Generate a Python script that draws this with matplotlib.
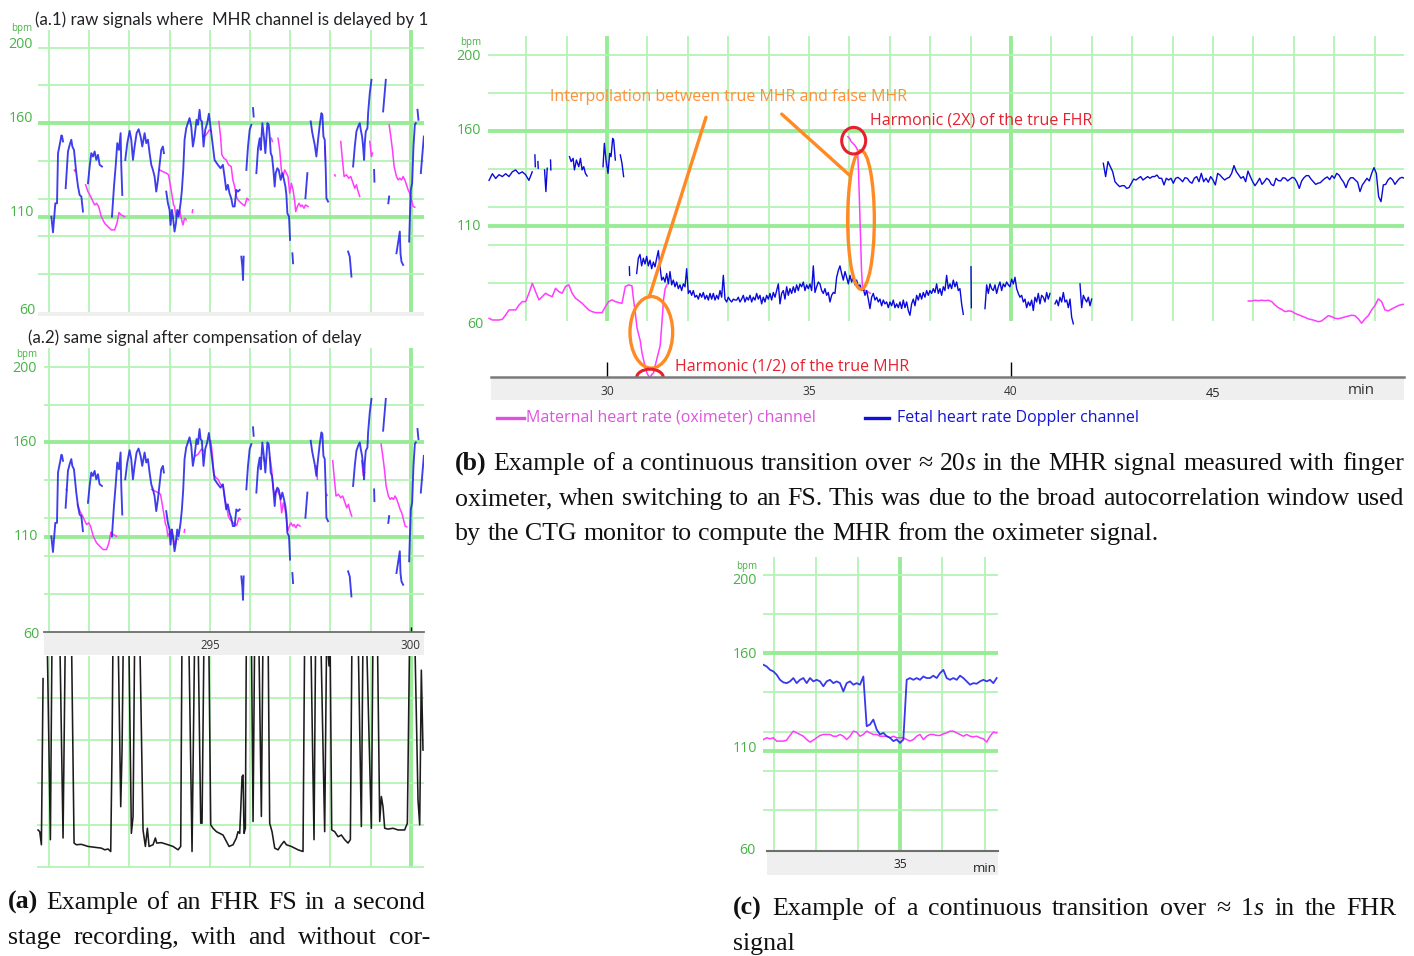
import numpy as np
import matplotlib
matplotlib.use("Agg")
import matplotlib.pyplot as plt
from matplotlib.patches import Ellipse
from matplotlib.lines import Line2D

nan = float("nan")

# ---------------- DATA ----------------
# (a.1)/(a.2): time in s, heart rate in bpm (NaN = signal gap)
a_fhr = [
    (291.058, 110.4), (291.099, 102.1), (291.157, 117.5), (291.199, 117.5), (291.224, 144.1), (291.282, 150.3),
    (291.307, 153.5), (291.323, 153.3), (291.348, 150.3), (nan, nan),
    (291.414, 125.5), (291.472, 145.0), (291.514, 148.5), (291.555, 151.2), (291.580, 147.6), (291.621, 145.8),
    (291.679, 133.5), (291.721, 126.4), (291.762, 121.9), (291.804, 121.1), (291.845, 113.1), (nan, nan),
    (291.969, 128.1), (292.011, 137.0), (292.052, 144.1), (292.094, 142.3), (292.135, 145.0), (292.176, 140.5),
    (292.218, 143.2), (292.259, 137.9), (292.317, 137.0), (nan, nan),
    (292.566, 110.4), (292.616, 126.4), (292.657, 137.0), (292.698, 149.4), (292.740, 145.8), (292.781, 154.7),
    (292.798, 137.0), (292.823, 121.9), (nan, nan),
    (292.897, 140.5), (292.947, 149.4), (293.005, 155.9), (293.046, 151.2), (293.088, 140.5), (293.129, 147.6),
    (293.179, 154.7), (293.229, 156.8), (293.278, 152.9), (293.320, 147.6), (293.378, 154.7), (293.419, 149.4),
    (293.461, 151.2), (293.502, 144.1), (293.544, 137.9), (293.585, 135.2), (293.626, 131.7), (293.668, 123.7),
    (293.709, 129.9), (293.751, 137.9), (293.792, 145.8), (293.833, 147.6), (293.858, 144.1), (nan, nan),
    (293.916, 123.7), (293.958, 117.5), (293.999, 114.0), (294.024, 106.0), (294.057, 114.0), (294.082, 110.4),
    (294.123, 102.5), (294.157, 106.9), (294.190, 114.0), (294.223, 110.4), (294.273, 117.5), (294.306, 124.6),
    (294.339, 135.2), (294.372, 151.2), (294.413, 157.3), (294.455, 160.0), (294.496, 162.7), (294.538, 158.2),
    (294.579, 147.6), (294.621, 152.9), (294.670, 161.8), (294.703, 159.1), (294.745, 167.1), (294.770, 161.8),
    (294.803, 160.9), (294.844, 147.6), (294.886, 156.5), (294.935, 160.0), (294.977, 165.0), (295.076, 147.6),
    (295.118, 140.5), (295.200, 137.9), (295.267, 136.1), (295.325, 137.9), (295.366, 131.7), (295.408, 124.6),
    (295.449, 127.3), (295.490, 122.8), (295.532, 120.2), (295.573, 115.8), (295.618, 115.8), (295.660, 124.6),
    (295.701, 123.7), (295.743, 124.6), (nan, nan),
    (295.784, 89.2), (295.809, 83.9), (295.826, 76.8), (295.842, 89.2), (nan, nan),
    (295.909, 135.2), (295.950, 147.6), (295.992, 156.5), (296.033, 159.1), (nan, nan),
    (296.075, 168.0), (296.091, 163.5), (nan, nan),
    (296.158, 133.5), (296.199, 146.7), (296.241, 152.0), (296.266, 145.8), (296.307, 160.0), (296.349, 152.0),
    (296.382, 144.1), (296.432, 160.0), (296.465, 159.1), (296.490, 152.9), (296.515, 144.1), (296.548, 142.3),
    (296.581, 135.2), (296.614, 126.4), (296.639, 133.5), (296.680, 136.1), (296.714, 135.2), (296.763, 129.9),
    (296.805, 133.5), (296.846, 129.9), (296.880, 126.4), (296.905, 121.9), (296.929, 112.2), (296.971, 110.4),
    (296.996, 98.1), (nan, nan),
    (297.054, 91.0), (297.071, 85.7), (nan, nan),
    (297.378, 120.2), (297.427, 133.5), (nan, nan),
    (297.510, 160.9), (297.544, 155.6), (297.568, 152.9), (297.610, 148.5), (297.651, 142.3), (297.693, 151.2),
    (297.734, 159.1), (297.776, 165.3), (297.801, 164.4), (297.826, 152.9), (297.859, 151.2), (297.884, 135.2),
    (297.900, 120.2), (297.942, 118.4), (nan, nan),
    (298.440, 91.9), (298.481, 89.2), (298.523, 78.6), (nan, nan),
    (298.564, 137.0), (298.606, 147.6), (298.647, 155.6), (298.689, 158.2), (298.730, 160.0), (298.755, 156.5),
    (298.788, 152.9), (298.813, 147.6), (298.838, 140.5), (298.855, 149.4), (298.880, 155.6), (298.921, 157.3),
    (298.938, 165.3), (298.979, 175.9), (299.021, 183.0), (nan, nan),
    (299.087, 135.2), (299.095, 129.0), (nan, nan),
    (299.311, 166.2), (299.378, 183.0), (nan, nan),
    (299.440, 117.5), (299.461, 121.1), (nan, nan),
    (299.643, 91.0), (299.726, 102.5), (299.743, 91.0), (299.768, 86.5), (299.809, 84.8), (nan, nan),
    (299.959, 97.2), (299.975, 108.7), (300.000, 124.6), (300.033, 128.1), (300.066, 147.6), (300.100, 159.1),
    (300.124, 160.0), (nan, nan),
    (300.166, 167.1), (300.190, 161.8), (nan, nan),
    (300.249, 133.5), (300.290, 144.1), (300.324, 152.9),
]

a_mhr = [
    (291.630, 135.2), (291.645, 134.5), (nan, nan),
    (291.911, 127.3), (291.969, 123.7), (292.036, 121.1), (292.094, 118.4), (292.135, 116.6), (292.185, 117.5),
    (292.234, 115.8), (292.301, 110.4), (292.384, 106.9), (292.466, 105.1), (292.549, 103.4), (292.632, 103.4),
    (292.690, 106.9), (292.740, 112.6), (292.798, 111.3), (292.881, 110.4), (nan, nan),
    (293.751, 135.2), (293.833, 134.3), (293.916, 133.5), (293.974, 132.6), (294.024, 126.4), (294.065, 121.1),
    (294.099, 116.6), (294.123, 115.8), (294.157, 110.4), (294.206, 112.2), (294.248, 114.0), (294.289, 109.6),
    (294.331, 106.0), (294.372, 109.6), (294.413, 108.7), (nan, nan),
    (294.563, 112.6), (294.575, 114.0), (nan, nan),
    (294.844, 152.9), (294.910, 153.8), (294.993, 156.5), (295.035, 155.6), (nan, nan),
    (295.225, 160.9), (295.267, 152.9), (295.300, 143.2), (295.350, 141.4), (295.408, 140.5), (295.466, 137.9),
    (295.532, 137.0), (295.573, 129.9), (295.618, 126.4), (295.660, 121.1), (295.701, 119.3), (295.784, 117.5),
    (295.867, 116.1), (295.925, 120.2), (295.967, 119.3), (nan, nan),
    (296.531, 152.0), (296.556, 150.3), (nan, nan),
    (296.697, 152.0), (296.739, 145.8), (296.780, 135.2), (296.822, 131.7), (296.863, 135.2), (296.905, 133.5),
    (296.946, 131.7), (296.988, 122.8), (297.029, 128.1), (297.071, 124.6), (297.112, 118.4), (297.137, 113.1),
    (297.178, 115.8), (297.220, 117.5), (297.261, 115.8), (297.295, 116.6), (297.344, 114.9), (297.378, 116.6),
    (297.444, 115.8), (nan, nan),
    (297.859, 147.6), (297.876, 140.5), (nan, nan),
    (298.108, 132.6), (298.120, 132.0), (nan, nan),
    (298.257, 150.3), (298.299, 140.5), (298.340, 131.7), (298.398, 132.6), (298.456, 130.8), (298.506, 131.7),
    (298.564, 128.1), (298.606, 125.5), (298.647, 127.3), (298.689, 123.7), (298.730, 121.1), (nan, nan),
    (298.979, 150.3), (299.021, 142.3), (299.046, 144.1), (nan, nan),
    (299.461, 159.1), (299.502, 152.9), (299.544, 145.8), (299.585, 137.0), (299.643, 131.7), (299.685, 129.9),
    (299.726, 130.8), (299.768, 129.9), (299.809, 131.7), (299.851, 129.9), (299.892, 127.3), (299.934, 124.6),
    (299.975, 122.8), (300.017, 119.3), (300.058, 115.8), (300.100, 115.4),
]
MHR_DELAY = 0.2  # s, compensated in (a.2)

# (a) bottom: raw signal (arbitrary units, values > 5 are off the chart)
a_raw = [
    (290.726, 0.88), (290.768, 0.84), (290.809, 0.53), (290.851, 4.46), (nan, nan),
    (290.950, 5.6), (291.033, 0.65), (291.075, 5.6), (291.265, 5.6), (291.348, 0.69), (291.406, 5.6),
    (291.556, 5.6), (291.622, 0.57), (291.680, 0.53), (291.804, 0.54), (291.970, 0.49), (292.136, 0.47),
    (292.302, 0.45), (292.385, 0.41), (292.468, 0.43), (292.534, 0.37), (292.567, 2.77), (292.592, 5.6),
    (292.716, 5.6), (292.783, 1.43), (292.816, 2.77), (292.849, 5.6),
    (292.982, 5.6), (293.048, 0.80), (293.090, 1.20), (293.131, 5.6),
    (293.255, 5.6), (293.338, 0.88), (293.396, 0.49), (293.446, 0.92), (293.488, 0.49), (293.587, 0.53),
    (293.645, 0.69), (293.678, 0.57), (293.794, 0.58), (293.960, 0.53), (294.085, 0.49), (294.209, 0.41),
    (294.275, 0.49), (294.308, 5.6),
    (294.474, 5.6), (294.557, 0.37), (294.624, 5.6),
    (294.706, 5.6), (294.773, 1.04), (294.806, 1.04), (294.856, 5.6),
    (294.972, 5.6), (295.022, 1.00), (295.080, 0.92), (295.163, 0.84), (295.245, 0.80), (295.328, 0.76),
    (295.411, 0.61), (295.478, 0.49), (295.577, 0.53), (295.660, 0.69), (295.701, 0.84), (295.743, 0.80),
    (295.768, 1.35), (295.801, 2.14), (295.826, 2.18), (295.851, 0.80), (295.884, 0.92), (295.909, 5.6),
    (296.033, 5.6), (296.075, 1.08), (296.116, 5.6),
    (296.216, 5.6), (296.282, 1.20), (296.323, 5.6),
    (296.448, 5.6), (296.489, 1.04), (296.547, 0.84), (296.614, 0.45), (296.697, 0.41), (296.779, 0.53),
    (296.846, 0.61), (296.904, 0.53), (297.028, 0.49), (297.194, 0.41), (297.318, 0.37), (297.360, 5.6),
    (297.509, 5.6), (297.592, 0.65), (297.633, 5.6),
    (297.758, 5.6), (297.857, 0.84), (297.907, 5.6), (297.965, 4.76), (297.990, 5.6), (298.032, 0.88),
    (298.106, 0.84), (298.189, 0.72), (298.272, 0.76), (298.355, 0.65), (298.438, 0.57), (298.496, 0.65),
    (298.537, 5.6),
    (298.687, 5.6), (298.769, 0.96), (298.811, 5.6),
    (298.894, 5.6), (299.018, 0.92), (299.060, 5.6),
    (299.167, 5.6), (299.226, 1.08), (299.267, 1.67), (299.308, 1.43), (299.350, 0.92), (299.433, 0.90),
    (299.557, 0.92), (299.682, 0.88), (299.847, 0.88), (299.914, 1.04), (299.972, 5.6),
    (300.096, 5.6), (300.179, 1.59), (300.221, 1.00), (300.262, 4.66), (300.303, 2.77),
]

# (b): time in min, bpm.  Regularly sampled FHR segments: (start, step, values)
b_fhr_step = 0.04125
b_fhr_seg1_start = 30.734
b_fhr_seg1 = [
    85, 93, 95, 89, 93, 90, 94, 89, 92, 87.5, 91, 88.5, 93, 97, 88.5, 81.5, 83, 80.5, 85, 79.5,
    86, 79, 81.5, 78, 80.5, 77, 79, 76, 79.5, 78, 87.5, 74.5, 76, 73.5, 76, 72.5, 73.5, 71.5, 74.5, 72.5,
    75, 71.5, 73.5, 71, 74.5, 71.5, 74.5, 71, 73.5, 71.5, 76, 72.5, 84, 71.5, 70, 72.5, 71, 70, 71.5, 71,
    71, 72.5, 70, 71.5, 73.5, 70, 72.5, 71, 73.5, 70, 72.5, 71, 74.5, 71.5, 73.5, 69, 72.5, 70, 73.5, 71.5,
    74.5, 71, 75, 72.5, 76, 79.5, 69, 74.5, 76, 71.5, 78, 73.5, 77, 74.5, 78, 75, 79, 76, 79.5, 78,
    80.5, 76, 79, 77, 79.5, 76, 89, 75, 78, 80.5, 79.5, 76, 74.5, 77, 73.5, 75, 70, 73.5, 75, 74.5,
    83, 86.5, 89, 85, 81.5, 86, 83, 79.5, 84, 80.5, 83, 79, 81.5, 78, 79, 76, 77, 73.5, 76, 71.5,
    66.5, 72.5, 74.5, 71, 72.5, 70, 71.5, 68, 71, 69, 70, 67, 70, 68, 71, 67, 69, 67, 70, 66.5,
    71, 67, 70, 65.5, 63, 69, 71.5, 68, 73.5, 71, 74.5, 71.5, 75, 72.5, 76, 73.5, 76, 74.5, 77, 75,
    79.5, 74.5, 77, 73.5, 78, 76, 84, 77, 79.5, 77, 81.5, 78, 80.5, 76, 77, 69, 63.5,
]
b_fhr_seg2_start = 39.356
b_fhr_seg2 = [
    66.5, 79, 74.5, 79.5, 77, 76, 79, 74.5, 78, 80.5, 76, 79.5, 78, 80.5, 79, 78, 82, 79.5, 83, 77,
    74.5, 72.5, 73.5, 70, 71.5, 67, 70, 68, 71, 65.5, 72.5, 70, 74.5, 69, 73.5, 72.5, 70, 75, 71.5, 74.5,
]
b_fhr_seg3_start = 41.089
b_fhr_seg3 = [69, 71, 68, 72.5, 70, 75, 70, 71, 67, 71.5, 62, 58.5]
b_fhr_seg4_start = 41.708
b_fhr_seg4 = [79.5, 67, 73.5, 71.5, 70, 72.5, 68, 71.5]

b_fhr_left_start, b_fhr_left_step = 27.08, 0.0822
b_fhr_left = [134, 137.5, 135, 137, 136, 137.5, 136, 138.5, 139.5, 137.5, 138.5, 137, 134, 138.5]

b_fhr_pieces = [
    (28.215, 147.4), (28.225, 141.2), (nan, nan), (28.289, 143.9), (28.297, 140.4), (nan, nan),
    (28.454, 139.5), (28.487, 128.1), (28.520, 140.4), (nan, nan), (28.602, 144.7), (28.610, 139.5), (nan, nan),
    (29.071, 146.5), (29.112, 143.9), (29.161, 145.6), (29.194, 139.5), (29.243, 144.7), (29.301, 141.2),
    (29.342, 145.6), (29.383, 139.5), (29.424, 141.2), (29.465, 137.7), (29.507, 136.3), (nan, nan),
    (29.901, 141.2), (29.934, 153.5), (29.975, 144.7), (30.025, 137.7), (30.066, 148.2), (30.099, 146.5),
    (30.140, 156.1), (30.164, 155.3), (30.206, 144.7), (nan, nan),
    (30.329, 147.4), (30.370, 143.0), (30.411, 136.0), (nan, nan),
    (30.553, 88.5), (30.560, 84.0), (nan, nan), (39.010, 88.5), (39.018, 67.0),
]

b_fhr_right_start, b_fhr_right_step = 42.285, 0.05776
b_fhr_right = [
    143, 136, 143.9, 141.2, 138.6, 133.3, 131.9, 130.7, 131.2, 131.2,
    129.8, 130.2, 132.5, 134.7, 134.2, 135.1, 136, 134.2, 135.1, 136,
    135.1, 136, 136, 136.8, 135.1, 135.1, 131.6, 135.1, 134.2, 135.1,
    132.5, 135.1, 135.6, 134.6, 133.3, 135.4, 135.1, 133.3, 132.5, 135.1,
    136, 133.3, 137.7, 133.3, 135.1, 133, 136, 134.2, 131.6, 137.7,
    136.8, 135.4, 134.2, 135.1, 135.6, 137.7, 141.8, 138.6, 136.8, 135.1,
    136, 133.3, 138.9, 136, 133.3, 131.2, 133, 135.1, 131.9, 133.3,
    135.1, 134.2, 131.9, 131.2, 135.1, 133.9, 133.7, 135.4, 135.1, 133.7,
    134.7, 135.6, 135.1, 133, 129.8, 133.7, 135.4, 136.5, 136.5, 134.7,
    133.3, 131.9, 132.5, 132.8, 134, 135.1, 135.8, 134.4, 136.5, 135.1,
    137.7, 136.8, 134.7, 133, 130.2, 133.7, 135.4, 135.4, 134.2, 133,
    128.1, 131.6, 133.3, 135.1, 133.7, 137.7, 140.7, 137.7, 125.4, 122.8,
    131.6, 131.9, 134.2, 135.4, 134.2, 131.9, 133.7, 135.1, 135.6, 135.1,
]

b_mhr_a_start, b_mhr_a_step = 27.081, 0.08224
b_mhr_a = [
    61.4, 60.5, 60.5, 60.5, 60.9, 63.2, 65.8, 65.8, 65.8, 68.4, 70.2, 70.2, 74.6, 79.8, 75.4, 71.1,
    72.8, 74.6, 73.5, 72.8, 77.2, 75.4, 74.6, 78.1, 79.0, 74.6, 71.9, 70.7, 69.3, 67.5, 65.8, 64.9,
    64.4, 64.4, 64.4, 67.5, 70.2, 71.1, 70.2, 69.7, 69.3, 78.1, 79.0, 78.5,
]
b_mhr_b_start, b_mhr_b_step = 30.658, 0.04112
b_mhr_b = [71, 64.6, 56.6, 53, 49.6, 43.5, 39.5, 36, 32.7, 31, 30.5, 31.9, 32.7, 36.5, 40, 43.5, 47,
           58.4, 71, 77, 79]
b_mhr_harm = [
    (35.962, 157.0), (36.003, 156.1), (36.044, 154.4), (36.086, 153.5), (36.127, 152.6), (36.168, 151.4),
    (36.201, 150.0), (36.225, 139.5), (36.250, 121.9), (36.275, 104.4), (36.299, 86.8), (36.324, 78.1),
    (36.373, 76.3), (36.456, 75.4), (36.513, 74.6),
]
b_mhr_right_start, b_mhr_right_step = 45.874, 0.0825
b_mhr_right = [
    70.5, 70.5, 70.9, 70.7, 70.9, 70.7, 70.9, 70.2, 68.4, 67.0, 66.1, 64.9, 65.3, 65.1, 64.0, 63.3,
    62.6, 61.9, 61.1, 60.7, 60.2, 59.6, 60.0, 61.4, 62.8, 62.3, 61.4, 61.2, 61.6, 62.1, 62.6, 63.0,
    62.8, 61.1, 58.8, 61.1, 62.8, 65.8, 68.1, 71.6, 70.2, 65.8, 65.3, 66.3, 67.2, 68.1, 68.6, 68.9,
]

# (c): time in s relative to 35 min, bpm
c_start, c_step = -32.51, 0.7911
c_fhr = [
    154.1, 153.2, 151.5, 150.7, 149.0, 146.4, 145.1, 144.7, 145.6, 147.3, 144.7, 146.4, 147.3, 144.7,
    147.3, 145.6, 146.4, 145.6, 143.1, 145.6, 146.4, 144.7, 145.6, 144.7, 140.5, 144.7, 145.6, 143.9,
    144.7, 143.9, 148.1, 122.7, 123.6, 126.1, 121.0, 118.5, 119.3, 117.6, 116.8, 115.1, 115.9, 114.2,
    115.9, 146.4, 147.3, 146.4, 147.3, 146.4, 148.1, 147.3, 147.3, 148.5, 147.3, 149.8, 151.5, 147.3,
    146.4, 147.3, 146.4, 148.5, 147.3, 145.6, 143.9, 144.7, 144.4, 145.6, 146.4, 145.6, 146.4, 144.7, 147.3,
]
c_mhr = [
    115.9, 116.8, 116.3, 116.8, 115.1, 115.1, 115.1, 115.6, 118.0, 120.2, 119.3, 118.5, 117.6, 115.9,
    114.6, 115.6, 116.8, 118.0, 118.5, 118.5, 118.5, 117.6, 117.6, 118.5, 117.6, 115.9, 117.6, 120.2,
    119.7, 117.6, 118.5, 120.2, 119.3, 118.5, 118.5, 117.6, 117.6, 117.6, 116.8, 117.6, 116.8, 116.8,
    116.8, 115.9, 115.1, 115.9, 117.6, 118.5, 115.9, 117.6, 118.5, 118.5, 118.0, 118.0, 118.8, 119.3,
    120.2, 120.2, 119.3, 118.5, 117.6, 118.5, 117.6, 117.3, 117.6, 116.8, 116.3, 114.6, 117.6, 119.7, 119.3,
]

BPM_GRID = [200, 180, 160, 140, 120, 110, 100, 80]
BPM_BOLD = [160, 110]
BPM_LABELS = ["200", "160", "110", "60"]

# ---------------- STYLE ----------------
W, H = 1414, 956
GREEN_THIN = dict(color="#B3F3B3", lw=1.3, solid_capstyle="butt")
GREEN_BOLD = dict(color="#98EC98", lw=2.8, solid_capstyle="butt")
LABEL_GREEN = "#47B347"
BLUE = "#2323EA"
BLUE_B = "#0A0ADC"
PINK = "#FF3CFF"
BAND = "#EFEFEF"
SANS = ["Open Sans", "DejaVu Sans"]
TSANS = ["Lato", "DejaVu Sans"]
SERIF = ["Liberation Serif", "DejaVu Serif"]
ANN_SIZE = 11.5

fig = plt.figure(figsize=(W / 100, H / 100), dpi=100)
fig.patch.set_facecolor("white")


def axes_px(x0, y0, x1, y1, face="white"):
    ax = fig.add_axes([x0 / W, 1 - y1 / H, (x1 - x0) / W, (y1 - y0) / H])
    ax.set_facecolor(face)
    for s in ax.spines.values():
        s.set_visible(False)
    ax.set_xticks([])
    ax.set_yticks([])
    return ax


def ftext(x, y, s, **kw):
    kw.setdefault("va", "center")
    return fig.text(x / W, 1 - y / H, s, **kw)


def unzip(pairs):
    a = np.array(pairs, dtype=float)
    return a[:, 0], a[:, 1]


def regular(start, step, vals):
    v = np.asarray(vals, dtype=float)
    return start + step * np.arange(len(v)), v


def grid(ax, xs, xbold, ys, ybold, ymin=None, ymax=None):
    for x in xs:
        st = GREEN_BOLD if x in xbold else GREEN_THIN
        if ymin is None:
            ax.axvline(x, zorder=0, **st)
        else:
            ax.plot([x, x], [ymin, ymax], zorder=0, **st)
    for y in ys:
        ax.axhline(y, zorder=0, **(GREEN_BOLD if y in ybold else GREEN_THIN))


def ylabels(xr, ys, bpm_y, bpm_x, size=10.3):
    ftext(bpm_x, bpm_y, "bpm", fontsize=7, color=LABEL_GREEN, ha="right", family=SANS)
    for (s, y), xo in zip(zip(BPM_LABELS, ys), xr):
        ftext(xo, y, s, fontsize=size, color=LABEL_GREEN, ha="right", family=SANS)


# ---------------- (a.1) ----------------
ax1 = axes_px(38, 30, 424, 312)
ax1.set_xlim(290.726, 300.328)
ax1.set_ylim(59.85, 209.4)
grid(ax1, range(291, 301), [300], BPM_GRID, BPM_BOLD)
t, v = unzip(a_mhr)
ax1.plot(t, v, color=PINK, lw=1.1, zorder=2)
t, v = unzip(a_fhr)
ax1.plot(t, v, color=BLUE, lw=1.35, alpha=0.88, zorder=3)
axes_px(38, 312, 424, 316, face=BAND)
ftext(35, 20, "(a.1) raw signals where  MHR channel is delayed by 1", fontsize=12.2, color="#222222",
      ha="left", family=TSANS)
ylabels([33, 33, 34, 35], [45, 118, 212, 311], 29, 32)

# ---------------- (a.2) ----------------
ax2 = axes_px(44, 348, 424, 632)
ax2.set_xlim(290.876, 300.328)
ax2.set_ylim(59.84, 209.9)
grid(ax2, range(291, 301), [300], BPM_GRID, BPM_BOLD)
t, v = unzip(a_mhr)
ax2.plot(t - MHR_DELAY, v, color=PINK, lw=1.1, zorder=2)
t, v = unzip(a_fhr)
ax2.plot(t, v, color=BLUE, lw=1.35, alpha=0.88, zorder=3)
ax2.set_xticks([300])
ax2.tick_params(axis="x", direction="in", length=3.5, width=1, color="black", labelbottom=False)
band2 = axes_px(44, 632, 424, 655, face=BAND)
band2.spines["top"].set_visible(True)
band2.spines["top"].set_color("#6E6E6E")
band2.spines["top"].set_linewidth(1.3)
band2.set_xlim(290.876, 300.328)
band2.set_ylim(0, 1)
for tk in [295, 300]:
    band2.text(tk, 0.42, str(tk), ha="center", va="center", fontsize=8.3, color="#333333", family=SANS)
ftext(28, 338, "(a.2) same signal after compensation of delay", fontsize=12.2, color="#222222",
      ha="left", family=TSANS)
ylabels([37, 37, 38, 40], [369, 443, 537, 635], 354, 37)

# ---------------- (a) raw ----------------
ax3 = axes_px(37, 656, 424, 868)
ax3.set_xlim(290.70, 300.328)
ax3.set_ylim(-0.02, 4.995)
grid(ax3, range(291, 301), [300], [0, 1, 2, 3, 4], [])
t, v = unzip(a_raw)
ax3.plot(t, v, color="#1C1C1C", lw=1.15, zorder=3)

# ---------------- (b) ----------------
axb = axes_px(488, 36, 1404, 377)
axb.set_xlim(27.054, 49.728)
axb.set_ylim(30.5, 210)
grid(axb, range(27, 50), [30, 40], BPM_GRID, BPM_BOLD, ymin=60, ymax=210)
t, v = regular(b_mhr_a_start, b_mhr_a_step, b_mhr_a)
t2, v2 = regular(b_mhr_b_start, b_mhr_b_step, b_mhr_b)
axb.plot(np.r_[t, t2], np.r_[v, v2], color=PINK, lw=1.1, zorder=2)
t, v = unzip(b_mhr_harm)
axb.plot(t, v, color=PINK, lw=1.1, zorder=2)
t, v = regular(b_mhr_right_start, b_mhr_right_step, b_mhr_right)
axb.plot(t, v, color=PINK, lw=1.1, zorder=2)
for st, vals in [(b_fhr_seg1_start, b_fhr_seg1), (b_fhr_seg2_start, b_fhr_seg2),
                 (b_fhr_seg3_start, b_fhr_seg3), (b_fhr_seg4_start, b_fhr_seg4)]:
    t, v = regular(st, b_fhr_step, vals)
    axb.plot(t, v, color=BLUE_B, lw=1.0, zorder=3)
t, v = regular(b_fhr_left_start, b_fhr_left_step, b_fhr_left)
axb.plot(t, v, color=BLUE_B, lw=1.0, zorder=3)
t, v = unzip(b_fhr_pieces)
axb.plot(t, v, color=BLUE_B, lw=1.0, zorder=3)
t, v = regular(b_fhr_right_start, b_fhr_right_step, b_fhr_right)
axb.plot(t, v, color=BLUE_B, lw=1.0, zorder=3)
axb.set_xticks([30, 40])
axb.tick_params(axis="x", direction="in", length=10.8, width=1.0, color="black", labelbottom=False)

ORANGE = "#FF8A24"
RED = "#E6202E"
axb.annotate("", xy=(31.047, 72.8), xytext=(32.45, 167.2),
             arrowprops=dict(arrowstyle="-", color=ORANGE, lw=2.4, shrinkA=0, shrinkB=0), zorder=5)
axb.annotate("", xy=(36.015, 136.5), xytext=(34.324, 168.9),
             arrowprops=dict(arrowstyle="-", color=ORANGE, lw=2.4, shrinkA=0, shrinkB=0), zorder=5)
axb.add_patch(Ellipse((31.097, 54.0), 1.057, 37.7, fill=False, ec=ORANGE, lw=2.4, zorder=5))
axb.add_patch(Ellipse((36.287, 113.2), 0.66, 73.0, fill=False, ec=ORANGE, lw=2.4, zorder=5))
axb.add_patch(Ellipse((36.106, 154.9), 0.594, 14.0, fill=False, ec=RED, lw=2.2, zorder=5))
axb.add_patch(Ellipse((31.064, 30.2), 0.66, 8.8, fill=False, ec=RED, lw=2.2, zorder=6, clip_on=False))
axb.text(28.59, 177.9, "Interpollation between true MHR and false MHR", color="#FF8F3A", fontsize=ANN_SIZE,
         ha="left", va="center", family=SANS, zorder=6)
axb.text(36.51, 165.3, "Harmonic (2X) of the true FHR", color=RED, fontsize=ANN_SIZE,
         ha="left", va="center", family=SANS, zorder=6)
axb.text(31.68, 35.8, "Harmonic (1/2) of the true MHR", color=RED, fontsize=ANN_SIZE,
         ha="left", va="center", family=SANS, zorder=6)

bandb = axes_px(491, 377, 1404, 400, face=BAND)
bandb.spines["top"].set_visible(True)
bandb.spines["top"].set_color("#7A7A7A")
bandb.spines["top"].set_linewidth(1.8)
bandb.set_xlim(27.129, 49.728)
bandb.set_ylim(0, 1)
for tk in [30, 35, 40]:
    bandb.text(tk, 0.38, str(tk), ha="center", va="center", fontsize=8.6, color="#333333", family=SANS)
bandb.text(45, 0.3, "45", ha="center", va="center", fontsize=9.2, color="#222222", family=SANS)
ftext(1361, 390, "min", fontsize=10.8, color="#333333", ha="center", family=SANS)
ylabels([481, 481, 481, 484], [57, 131, 226, 325], 42, 481)

# legend of (b)
fig.add_artist(Line2D([497 / W, 524 / W], [1 - 418 / H] * 2, color="#E050E0", lw=2.4))
ftext(526, 418, "Maternal heart rate (oximeter) channel", fontsize=ANN_SIZE, color="#DD55DD", ha="left",
      family=SANS)
fig.add_artist(Line2D([865 / W, 889 / W], [1 - 418 / H] * 2, color="#1010DD", lw=2.4))
ftext(897, 418, "Fetal heart rate Doppler channel", fontsize=ANN_SIZE, color="#1414D4", ha="left", family=SANS)

# ---------------- (c) ----------------
axc = axes_px(763, 557, 998, 851)
axc.set_xlim(-32.59, 23.18)
axc.set_ylim(59.0, 209.1)
grid(axc, [-30, -20, -10, 0, 10, 20], [0], BPM_GRID, BPM_BOLD, ymin=59.0, ymax=209.1)
t, v = regular(c_start, c_step, c_mhr)
axc.plot(t, v, color=PINK, lw=1.1, zorder=2)
t, v = regular(c_start, c_step, c_fhr)
axc.plot(t, v, color=BLUE, lw=1.3, alpha=0.9, zorder=3)
bandc = axes_px(767, 851, 998, 875, face=BAND)
bandc.spines["top"].set_visible(True)
bandc.spines["top"].set_color("#6E6E6E")
bandc.spines["top"].set_linewidth(1.5)
bandc.set_xlim(-31.64, 23.18)
bandc.set_ylim(0, 1)
bandc.text(0, 0.42, "35", ha="center", va="center", fontsize=8.6, color="#222222", family=SANS)
ftext(985, 869, "min", fontsize=9.5, color="#222222", ha="center", family=SANS)
ylabels([757, 757, 757, 756], [581, 655, 749, 850], 566, 757)

# ---------------- captions ----------------
renderer = fig.canvas.get_renderer()
CAP_SIZE = 18.6


def norm(words):
    out = []
    for w in words:
        out.append([(w, {})] if isinstance(w, str) else w)
    return out


def caption_line(words, x0, x1, y_base, justify=True):
    words = norm(words)
    objs, widths = [], []
    for w in words:
        parts, tot = [], 0.0
        for txt, kw in w:
            tt = fig.text(0, 0, txt, fontsize=CAP_SIZE, family=SERIF, va="baseline", ha="left",
                          color="#111111", **kw)
            wd = tt.get_window_extent(renderer).width
            parts.append((tt, wd))
            tot += wd
        objs.append(parts)
        widths.append(tot)
    if justify and len(words) > 1:
        gap = (x1 - x0 - sum(widths)) / (len(words) - 1)
    else:
        gap = CAP_SIZE * 100 / 72 * 0.25
    x = x0
    for parts, wd in zip(objs, widths):
        xx = x
        for tt, pw in parts:
            tt.set_position((xx / W, 1 - y_base / H))
            xx += pw
        x += wd + gap


BOLD = {"fontweight": "bold"}
ITAL = {"fontstyle": "italic"}
caption_line([[("(a)", BOLD)]] + "Example of an FHR FS in a second".split(), 8, 425, 909)
caption_line("stage recording, with and without cor-".split(), 8, 430, 944)
caption_line([[("(b)", BOLD)]] + "Example of a continuous transition over ≈".split() + [[("20", {}), ("s", ITAL)]]
             + "in the MHR signal measured with finger".split(), 455, 1404, 470)
caption_line("oximeter, when switching to an FS. This was due to the broad autocorrelation window used".split(),
             455, 1404, 505)
caption_line("by the CTG monitor to compute the MHR from the oximeter signal.".split(), 455, 1404, 540,
             justify=False)
caption_line([[("(c)", BOLD)]] + "Example of a continuous transition over ≈".split() + [[("1", {}), ("s", ITAL)]]
             + "in the FHR".split(), 733, 1397, 915)
caption_line(["signal"], 733, 1397, 950, justify=False)

fig.savefig("out.png", dpi=100)
